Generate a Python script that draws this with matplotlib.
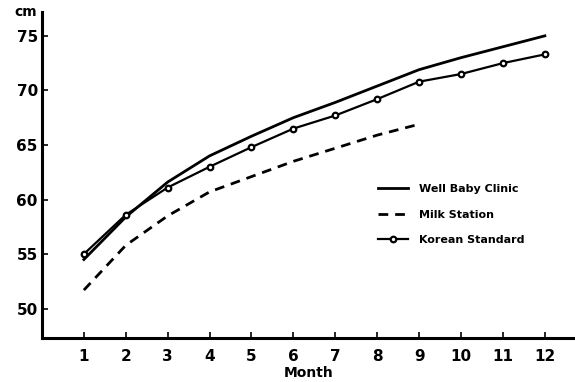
import matplotlib
matplotlib.use('Agg')
import matplotlib.pyplot as plt

months = [1, 2, 3, 4, 5, 6, 7, 8, 9, 10, 11, 12]
well_baby = [54.5, 58.4, 61.6, 64.0, 65.8, 67.5, 68.9, 70.4, 71.9, 73.0, 74.0, 75.0]
milk_months = [1, 2, 3, 4, 5, 6, 7, 8, 9]
milk_station = [51.7, 55.8, 58.5, 60.7, 62.1, 63.5, 64.7, 65.9, 66.9]
korean_std = [55.0, 58.6, 61.1, 63.0, 64.8, 66.5, 67.7, 69.2, 70.8, 71.5, 72.5, 73.3]
yticks = [50, 55, 60, 65, 70, 75]
xlabels = ['1', '2', '3', '4', '5', '6', '7', '8', '9', '10', '11', '12']

plt.rcParams['font.family'] = 'DejaVu Sans'
fig = plt.figure(figsize=(5.75, 3.82), dpi=100, facecolor='white')
ax = fig.add_axes([0.073, 0.115, 0.927, 0.854])

ax.plot(months, well_baby, color='black', lw=2.0, label='Well Baby Clinic')
ax.plot(milk_months, milk_station, color='black', lw=2.0, ls=(0, (3.5, 2.5)), label='Milk Station')
ax.plot(months, korean_std, color='black', lw=1.6, marker='o', ms=4,
        mfc='white', mec='black', mew=1.6, label='Korean Standard')

ax.set_xlim(0, 12.72)
ax.set_ylim(47.3, 77.2)
ax.set_xticks(months)
ax.set_xticklabels(xlabels)
ax.set_yticks(yticks)
ax.tick_params(axis='both', direction='in', length=4, width=1.2, labelsize=11)
ax.tick_params(axis='x', pad=8)
ax.tick_params(axis='y', pad=3)
for lbl in ax.get_xticklabels() + ax.get_yticklabels():
    lbl.set_fontweight('semibold')
for s in ['top', 'right']:
    ax.spines[s].set_visible(False)
for s in ['left', 'bottom']:
    ax.spines[s].set_linewidth(2.2)

ax.text(-0.03, 1.0, 'cm', transform=ax.transAxes, fontsize=10, fontweight='bold',
        ha='center', va='center')
ax.set_xlabel('Month', fontsize=10, fontweight='semibold', labelpad=1)

ax.legend(loc='upper left', bbox_to_anchor=(0.612, 0.503), frameon=False,
          handlelength=2.7, handletextpad=1.0, labelspacing=1.4,
          prop={'weight': 'bold', 'size': 8.0})

fig.savefig('out.png', dpi=100)
